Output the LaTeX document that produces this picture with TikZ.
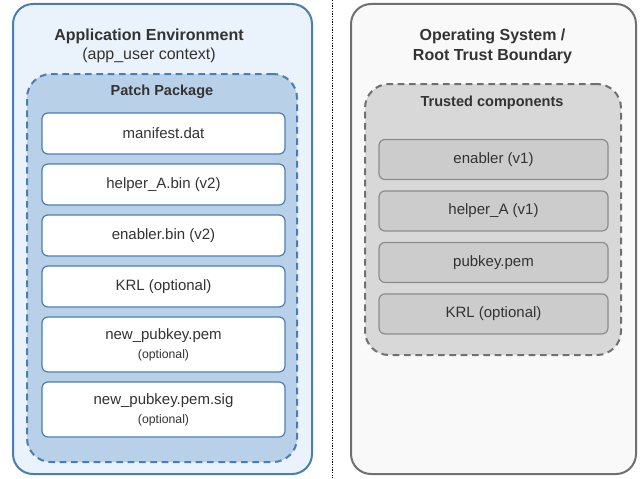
\documentclass[tikz,border=0pt]{standalone}
\usepackage{fontspec}
\setmainfont{Liberation Sans}
\usepackage{tikz}
\usetikzlibrary{positioning}
\definecolor{EnvBlue}{HTML}{4A7EB3}
\definecolor{EnvFill}{HTML}{EAF2FC}
\definecolor{PkgFill}{HTML}{B9D1E8}
\definecolor{OsGray}{HTML}{707070}
\definecolor{OsFill}{HTML}{F9F9F9}
\definecolor{TrustFill}{HTML}{D8D8D8}
\definecolor{CompFill}{HTML}{CCCCCC}
\definecolor{CompLine}{HTML}{8C8C8C}
\definecolor{TextGray}{HTML}{333333}

\begin{document}
\begin{tikzpicture}[
 x=0.75pt, y=-0.75pt,
 envbox/.style={draw=EnvBlue, fill=EnvFill, line width=1.5pt, rounded corners=15pt, minimum width=224.25pt, minimum height=352.5pt},
 pkgbox/.style={draw=EnvBlue, fill=PkgFill, line width=1.5pt, dash pattern=on 5pt off 3.5pt, rounded corners=18pt, minimum width=202.5pt, minimum height=291pt},
 osbox/.style={draw=OsGray, fill=OsFill, line width=1.5pt, rounded corners=15pt, minimum width=213.75pt, minimum height=352.5pt},
 trustbox/.style={draw=OsGray, fill=TrustFill, line width=1.5pt, dash pattern=on 5pt off 3.5pt, rounded corners=18pt, minimum width=192pt, minimum height=203.25pt},
 file/.style={draw=EnvBlue, fill=white, line width=0.9pt, rounded corners=4.5pt, minimum width=182.25pt, minimum height=30.75pt, align=center, text=TextGray, font=\fontsize{11.25}{13.5}\selectfont},
 tallfile/.style={file, minimum height=41.25pt},
 comp/.style={draw=CompLine, fill=CompFill, line width=0.9pt, rounded corners=4.5pt, minimum width=171.75pt, minimum height=30pt, align=center, text=TextGray, font=\fontsize{11.25}{13.5}\selectfont},
 title/.style={text=TextGray, font=\bfseries\fontsize{12}{14}\selectfont, inner sep=0pt},
 subtitle/.style={text=TextGray, font=\fontsize{12}{14}\selectfont, inner sep=0pt},
 group/.style={text=TextGray, font=\bfseries\fontsize{10.9}{13}\selectfont, inner sep=0pt},
 divider/.style={draw=black, line width=0.6pt, dash pattern=on 1pt off 1pt}
]
\useasboundingbox (0,0) rectangle (641,478);

% trust split
\coordinate (divtop) at (332,0);
\coordinate (divbot) at (332,478);
\draw[divider] (divtop) -- (divbot);

% application side
\node[envbox] (env) at (162.5,239) {};
\node[title] (envtitle) at (149,36) {Application Environment};
\node[subtitle] (envsub) at (149,55) {(app\_user context)};
\node[pkgbox] (pkg) at (162,268) {};
\node[group] (pkgtitle) at (162,92) {Patch Package};

\node[file] (manifest) at (163.5,133.5) {manifest.dat};
\node[file, below=6.6pt of manifest] (helper) {helper\_A.bin (v2)};
\node[file, below=6.6pt of helper] (enabler) {enabler.bin (v2)};
\node[file, below=6.6pt of enabler] (krl) {KRL (optional)};
\node[tallfile, below=6.6pt of krl] (newkey) {new\_pubkey.pem\\[1pt]{\fontsize{9.2}{11}\selectfont (optional)}};
\node[tallfile, below=6.6pt of newkey] (newsig) {new\_pubkey.pem.sig\\[1pt]{\fontsize{9.2}{11}\selectfont (optional)}};

% root side
\node[osbox] (os) at (493.5,239) {};
\node[title, align=center] (ostitle) at (492.5,46.5) {Operating System /\\[0.5pt]Root Trust Boundary};
\node[trustbox] (trusted) at (493,219.5) {};
\node[group] (trustedtitle) at (492,103) {Trusted components};

\node[comp] (enablerv1) at (493.5,159.5) {enabler (v1)};
\node[comp, below=7.7pt of enablerv1] (helperv1) {helper\_A (v1)};
\node[comp, below=7.7pt of helperv1] (pubkey) {pubkey.pem};
\node[comp, below=7.7pt of pubkey] (krlroot) {KRL (optional)};
\end{tikzpicture}
\end{document}
